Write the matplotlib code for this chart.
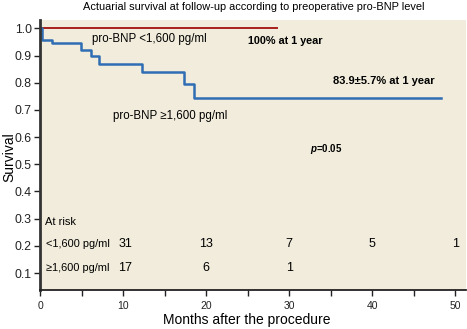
#!/usr/bin/env python3

import matplotlib
matplotlib.use("Agg")
import matplotlib.pyplot as plt

# Kaplan-Meier lépcsők
low_months = [0, 28.6]
low_surv = [1.0, 1.0]

high_months = [0, 0.2, 1.4, 4.9, 6.2, 7.1, 12.3, 17.4, 18.5, 48.3]
high_surv = [1.0, 0.958, 0.946, 0.919, 0.897, 0.870, 0.839, 0.797, 0.745, 0.745]

# at risk táblázat
risk_months = [10.3, 20, 30, 40, 50]
risk_low = ["31", "13", "7", "5", "1"]
risk_high = ["17", "6", "1"]

y_ticks = [0.1, 0.2, 0.3, 0.4, 0.5, 0.6, 0.7, 0.8, 0.9, 1.0]
x_ticks = [0, 10, 20, 30, 40, 50]

font = ["Liberation Sans", "DejaVu Sans"]


def main():
    plt.rcParams["font.family"] = font
    plt.rcParams["mathtext.fontset"] = "custom"
    plt.rcParams["mathtext.it"] = "Liberation Sans:italic:bold"
    plt.rcParams["mathtext.rm"] = "Liberation Sans:bold"

    fig = plt.figure(figsize=(4.67, 3.29), dpi=100)
    ax = fig.add_axes([0.0857, 0.1185, 0.912, 0.82])
    ax.set_facecolor("#f1ecdb")

    ax.step(low_months, low_surv, where="post", color="#a8201a", lw=1.4)
    ax.step(high_months, high_surv, where="post", color="#2f6db4", lw=1.8)

    ax.set_xlim(0, 51.3)
    ax.set_ylim(0.0375, 1.03)
    ax.set_xticks(x_ticks)
    ax.set_xticks(range(5, 51, 10), minor=True)
    ax.set_yticks(y_ticks)
    ax.set_yticklabels(["%.1f" % v for v in y_ticks], fontsize=8.8)
    ax.set_xticklabels([str(v) for v in x_ticks], fontsize=7.5)
    ax.tick_params(axis="both", direction="out", length=4, width=1, colors="#222222")
    ax.tick_params(axis="x", which="minor", length=4, width=1, colors="#222222")
    ax.tick_params(axis="x", pad=4)
    ax.tick_params(axis="y", pad=2)

    for s in ["top", "right"]:
        ax.spines[s].set_visible(False)
    ax.spines["left"].set_linewidth(2)
    ax.spines["left"].set_color("#333333")
    ax.spines["bottom"].set_linewidth(1.3)
    ax.spines["bottom"].set_color("#222222")

    fig.text(0.528, 0.026, "Months after the procedure", ha="center", va="center", fontsize=10)
    fig.text(0.019, 0.523, "Survival", ha="center", va="center", rotation=90, fontsize=10)
    fig.text(0.544, 0.979, "Actuarial survival at follow-up according to preoperative pro-BNP level",
             ha="center", va="center", fontsize=7.9)

    # feliratok
    ax.text(6.3, 0.962, "pro-BNP <1,600 pg/ml", fontsize=8.3, va="center")
    ax.text(25.1, 0.953, "100% at 1 year", weight="bold", fontsize=7.8, va="center")
    ax.text(35.3, 0.806, "83.9±5.7% at 1 year", weight="bold", fontsize=8, va="center")
    ax.text(8.8, 0.676, "pro-BNP ≥1,600 pg/ml", fontsize=8.3, va="center")
    ax.text(32.5, 0.558, "$\\mathit{p}$=0.05", weight="bold", fontsize=7, va="center")

    ax.text(0.6, 0.288, "At risk", fontsize=8, va="center")
    ax.text(0.7, 0.205, "<1,600 pg/ml", fontsize=7.9, va="center")
    ax.text(0.7, 0.118, "≥1,600 pg/ml", fontsize=7.9, va="center")
    for m, n in zip(risk_months, risk_low):
        ax.text(m, 0.205, n, fontsize=9, ha="center", va="center")
    for m, n in zip(risk_months, risk_high):
        ax.text(m, 0.118, n, fontsize=9, ha="center", va="center")

    plt.savefig("out.png", dpi=100)


if __name__ == "__main__":
    main()
